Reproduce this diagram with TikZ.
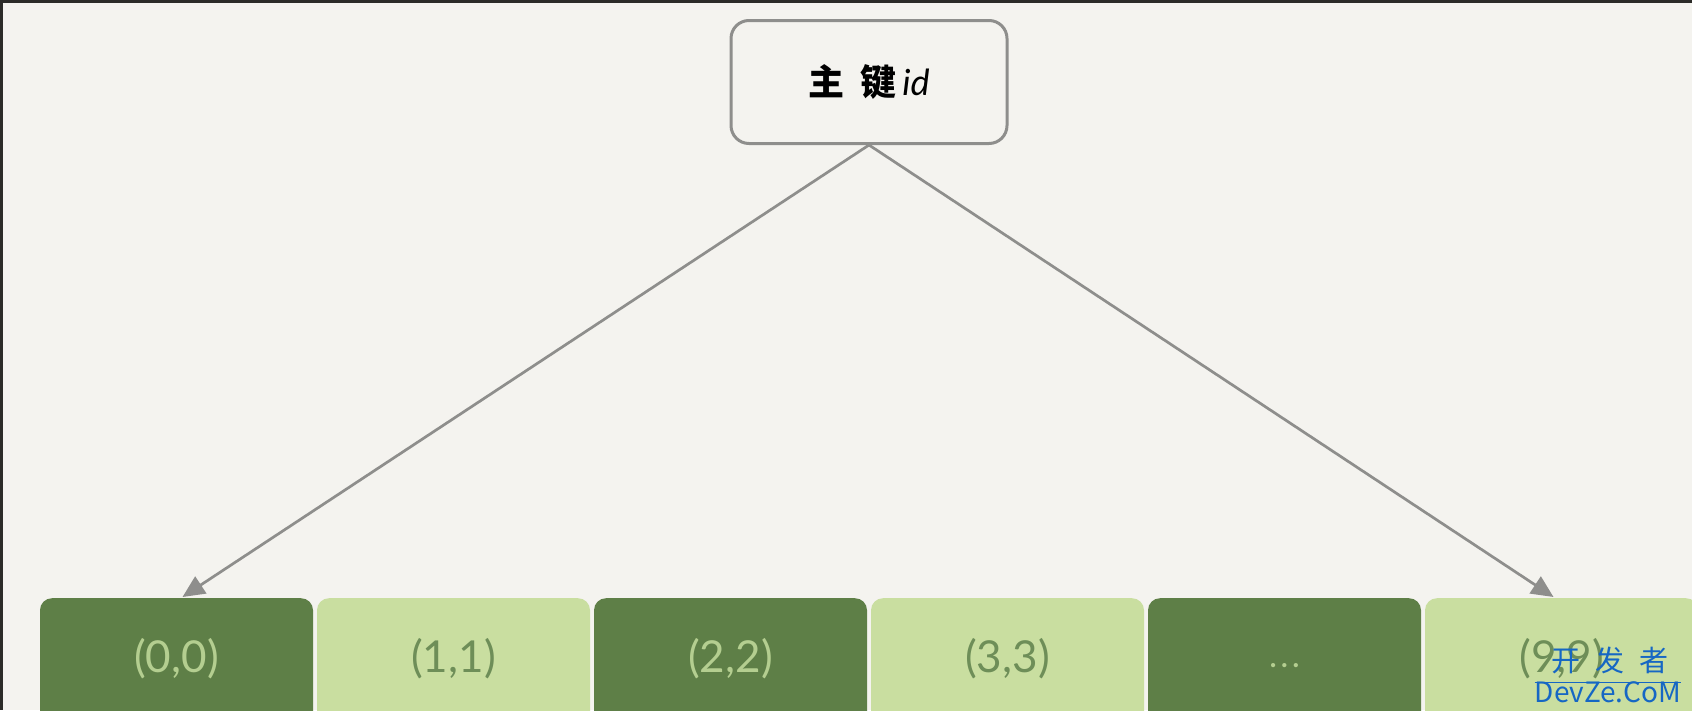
\documentclass[tikz,border=0pt]{standalone}
\usepackage{fontspec}
\setmainfont{Lato}
\newfontfamily\cjk{Noto Sans CJK SC}
\usetikzlibrary{arrows.meta}
\definecolor{bgc}{HTML}{F4F3EF}
\definecolor{framec}{HTML}{2B2B28}
\definecolor{edgec}{HTML}{8E8E8C}
\definecolor{darkg}{HTML}{5E7F47}
\definecolor{lightg}{HTML}{C9DEA0}
\definecolor{darktxt}{HTML}{B4CE90}
\definecolor{lighttxt}{HTML}{6E8E58}
\definecolor{wmblue}{HTML}{1667C4}
\tikzset{
  rootbox/.style={draw=edgec, line width=3pt, fill=bgc, rounded corners=18pt,
    minimum width=276pt, minimum height=123pt, inner sep=0pt},
  cell/.style={rounded corners=12pt, minimum width=273pt, minimum height=140pt,
    anchor=north, inner sep=0pt, font=\fontsize{44}{46}\selectfont},
  darkcell/.style={cell, fill=darkg, text=darktxt},
  lightcell/.style={cell, fill=lightg, text=lighttxt},
  conn/.style={draw=edgec, line width=2.7pt, -{Triangle[length=22pt,width=20pt]}},
  wm/.style={text=wmblue, inner sep=0pt}
}
\begin{document}
\begin{tikzpicture}[x=1pt,y=-1pt]
\useasboundingbox (0,0) rectangle (1692,710);
\clip (0,0) rectangle (1692,710);
\fill[bgc] (0,0) rectangle (1692,710);
\fill[framec] (0,0) rectangle (1692,3);
\fill[framec] (0,0) rectangle (3,710);

\node[rootbox] (root) at (869,82) {\fontsize{36}{38}\selectfont{\cjk\bfseries 主\hspace{16pt}键}\,\itshape id};

\node[darkcell]  (b0) at (176.5,598) {\raisebox{26pt}{(0,0)}};
\node[lightcell] (b1) at (453.5,598) {\raisebox{26pt}{(1,1)}};
\node[darkcell]  (b2) at (730.5,598) {\raisebox{26pt}{(2,2)}};
\node[lightcell] (b3) at (1007.5,598) {\raisebox{26pt}{(3,3)}};
\node[darkcell]  (b4) at (1284.5,598) {\raisebox{5pt}{\fontsize{28}{30}\selectfont\bfseries .\,.\,.}};
\node[lightcell] (b5) at (1561.5,598) {\raisebox{26pt}{(9,9)}};

\draw[conn] (root.south) -- ([xshift=6pt,yshift=1pt]b0.north);
\draw[conn] (root.south) -- ([xshift=-8pt,yshift=1pt]b5.north);

\node[wm, font=\cjk\fontsize{29}{31}\selectfont] (wm1) at (1610,660) {开\hspace{15pt}发\hspace{15pt}者};
\node[wm, font=\cjk\fontsize{28}{30}\selectfont] (wm2) at (1608,692) {DevZe.CoM};
\draw[wmblue, line width=1pt] ([yshift=-1pt]wm2.north west) -- ([yshift=-1pt]wm2.north east);
\end{tikzpicture}
\end{document}
